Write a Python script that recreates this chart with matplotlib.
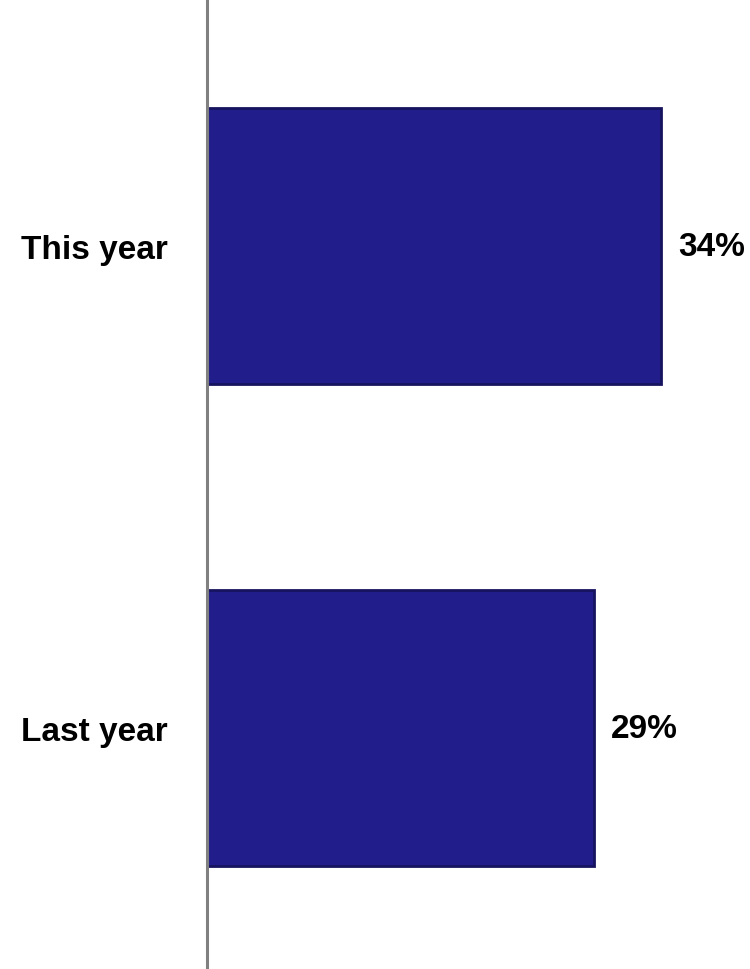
import matplotlib.pyplot as plt

categories = ["Last year", "This year"]
values = [29, 34]
value_labels = ["29%", "34%"]

plt.rcParams['font.family'] = ["Liberation Sans", "DejaVu Sans"]

fig = plt.figure(figsize=(7.5, 9.7), dpi=100)
ax = fig.add_axes([207 / 750, 0, 1 - 207 / 750, 1])

pos = list(range(len(categories)))
ax.barh(pos, values, height=0.574, color="#211e8c", edgecolor="#16135f", linewidth=2)

for p, v, lab in zip(pos, values, value_labels):
    ax.text(v + 1.3, p, lab, va="center", ha="left", fontsize=24, fontweight="bold")

ax.set_xlim(0, 40.7)
ax.set_ylim(-0.5, 1.513)
ax.set_yticks(pos)
ax.set_yticklabels(categories, fontsize=24, fontweight="bold")
ax.tick_params(axis="y", length=0, pad=28)
ax.set_xticks([])
for s in ["top", "right", "bottom"]:
    ax.spines[s].set_visible(False)
ax.spines["left"].set_color("#808080")
ax.spines["left"].set_linewidth(2.2)

fig.savefig("out.png", dpi=100)
